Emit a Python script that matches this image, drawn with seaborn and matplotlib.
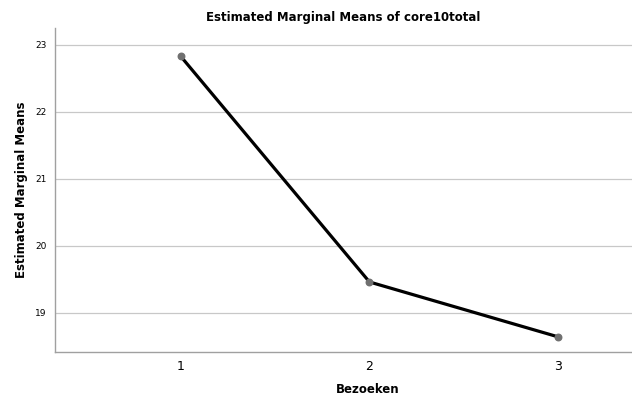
import matplotlib
matplotlib.use("Agg")
import matplotlib.pyplot as plt
import seaborn as sns
import pandas as pd

# Estimated marginal means per visit
bezoeken = [1, 2, 3]
means = [22.83, 19.46, 18.64]

df = pd.DataFrame({"Bezoeken": bezoeken, "Mean": means})

sns.set_style("white")
plt.rcParams['font.family'] = ['DejaVu Sans']
plt.rcParams['text.color'] = 'black'
plt.rcParams['axes.labelcolor'] = 'black'
plt.rcParams['xtick.color'] = 'black'
plt.rcParams['ytick.color'] = 'black'

fig = plt.figure(figsize=(6.32, 4), dpi=100)
ax = fig.add_axes([0.087, 0.12, 0.913, 0.81])

sns.lineplot(data=df, x="Bezoeken", y="Mean", ax=ax, color="black",
             linewidth=2.3, zorder=3)
ax.scatter(df["Bezoeken"], df["Mean"], color="#707070", s=22, zorder=4)

ax.set_xlim(0.335, 3.39)
ax.set_ylim(18.415, 23.25)
ax.set_xticks(bezoeken)
ax.set_xticklabels([str(b) for b in bezoeken], fontsize=9)
ax.set_yticks([19, 20, 21, 22, 23])
ax.set_yticklabels(["19", "20", "21", "22", "23"], fontsize=6.5)
ax.tick_params(axis="both", length=0, pad=6)
ax.grid(axis="y", color="#c8c8c8", linewidth=0.9)
ax.set_axisbelow(True)

for s in ["top", "right"]:
    ax.spines[s].set_visible(False)
for s in ["left", "bottom"]:
    ax.spines[s].set_color("#a0a0a0")
    ax.spines[s].set_linewidth(1)

ax.set_title("Estimated Marginal Means of core10total", fontsize=8.5,
             fontweight="bold", pad=5)
ax.set_xlabel("Bezoeken", fontsize=8.5, fontweight="bold")
ax.xaxis.set_label_coords(0.542, -0.095)
ax.set_ylabel("Estimated Marginal Means", fontsize=8.5, fontweight="bold",
              labelpad=5)

fig.savefig("out.png", dpi=100)
